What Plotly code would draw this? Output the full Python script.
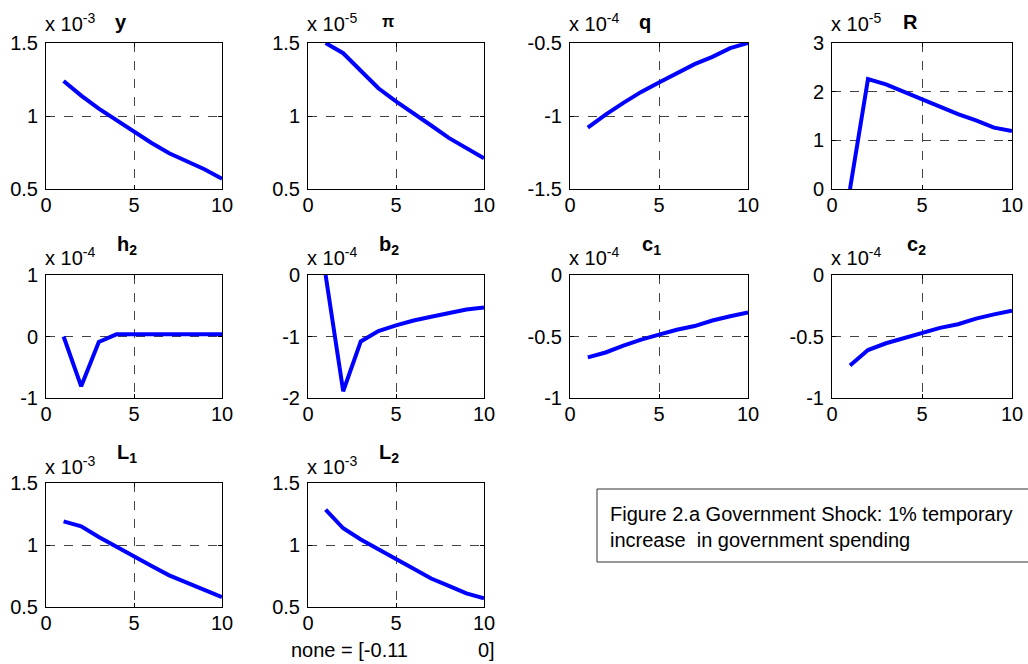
import plotly.graph_objects as go

W, H = 1028, 664
periods = list(range(1, 11))

y_vals  = [1.24, 1.14, 1.05, 0.97, 0.895, 0.815, 0.745, 0.69, 0.635, 0.57]
pi_vals = [1.50, 1.43, 1.31, 1.19, 1.10, 1.02, 0.935, 0.85, 0.78, 0.71]
q_vals  = [-1.08, -0.99, -0.91, -0.835, -0.77, -0.705, -0.645, -0.595, -0.535, -0.50]
R_vals  = [0.0, 2.26, 2.15, 2.0, 1.84, 1.68, 1.54, 1.41, 1.26, 1.19]
h2_vals = [0.0, -0.81, -0.09, 0.035, 0.035, 0.035, 0.035, 0.035, 0.035, 0.035]
b2_vals = [0.0, -1.89, -1.08, -0.91, -0.82, -0.74, -0.68, -0.62, -0.56, -0.53]
c1_vals = [-0.67, -0.63, -0.575, -0.525, -0.485, -0.445, -0.415, -0.37, -0.335, -0.305]
c2_vals = [-0.735, -0.61, -0.555, -0.515, -0.475, -0.43, -0.40, -0.355, -0.32, -0.29]
L1_vals = [1.19, 1.15, 1.065, 0.985, 0.91, 0.83, 0.755, 0.695, 0.635, 0.58]
L2_vals = [1.285, 1.135, 1.045, 0.965, 0.885, 0.805, 0.73, 0.67, 0.61, 0.57]

titles = ["y", "π", "q", "R", "h<sub>2</sub>", "b<sub>2</sub>", "c<sub>1</sub>", "c<sub>2</sub>",
          "L<sub>1</sub>", "L<sub>2</sub>"]
exponents = ["-3", "-5", "-4", "-5", "-4", "-4", "-4", "-4", "-3", "-3"]
series = [y_vals, pi_vals, q_vals, R_vals, h2_vals, b2_vals, c1_vals, c2_vals, L1_vals, L2_vals]
y_ticks = [[0.5, 1, 1.5], [0.5, 1, 1.5], [-1.5, -1, -0.5], [0, 1, 2, 3],
           [-1, 0, 1], [-2, -1, 0], [-1, -0.5, 0], [-1, -0.5, 0],
           [0.5, 1, 1.5], [0.5, 1, 1.5]]
y_ticktext = [["0.5", "1", "1.5"], ["0.5", "1", "1.5"], ["-1.5", "-1", "-0.5"], ["0", "1", "2", "3"],
              ["-1", "0", "1"], ["-2", "-1", "0"], ["-1", "-0.5", "0"], ["-1", "-0.5", "0"],
              ["0.5", "1", "1.5"], ["0.5", "1", "1.5"]]
x_ticks = [0, 5, 10]
x_ticktext = ["0", "5", "10"]

# layout geometry (pixels)
cols = [(46, 222), (308, 484), (570, 748), (832, 1012)]
rows = [(43, 189), (275, 398), (483, 607)]
title_x = [121, 388, 645, 910, 127, 389, 651, 916, 127, 389]
title_y = {0: 22, 1: 246, 2: 453}
exp_y = {0: 23, 1: 257, 2: 466}

FONT = "Liberation Sans, Arial, sans-serif"
fig = go.Figure()
annotations = []

for i, vals in enumerate(series):
    r, c = divmod(i, 4)
    x0, x1 = cols[c]
    y0, y1 = rows[r]
    n = "" if i == 0 else str(i + 1)
    fig.add_trace(go.Scatter(x=periods, y=vals, mode="lines",
                             line=dict(color="#0000ff", width=4),
                             xaxis="x" + n, yaxis="y" + n, showlegend=False,
                             cliponaxis=False))
    common = dict(showline=True, linecolor="black", linewidth=1, mirror="ticks",
                  ticks="inside", ticklen=4, tickcolor="black", automargin=False,
                  showgrid=True, gridcolor="#444444", griddash="dash", gridwidth=1,
                  zeroline=False, tickfont=dict(family=FONT, size=20, color="black"),
                  fixedrange=True)
    fig.update_layout(**{
        "xaxis" + n: dict(domain=[x0 / W, x1 / W], anchor="y" + n, range=[0, 10],
                          tickvals=x_ticks, ticktext=x_ticktext,
                          ticklabelstandoff=-2, **common),
        "yaxis" + n: dict(domain=[1 - y1 / H, 1 - y0 / H], anchor="x" + n,
                          range=[y_ticks[i][0], y_ticks[i][-1]],
                          tickvals=y_ticks[i], ticktext=y_ticktext[i],
                          ticklabelstandoff=3, **common),
    })
    annotations.append(dict(x=(x0 - 3) / W, y=1 - exp_y[r] / H, xref="paper", yref="paper",
                            xanchor="left", yanchor="middle", showarrow=False,
                            text="x 10<sup>" + exponents[i] + "</sup>",
                            font=dict(family=FONT, size=20, color="black")))
    annotations.append(dict(x=title_x[i] / W, y=1 - title_y[r] / H, xref="paper", yref="paper",
                            xanchor="center", yanchor="middle", showarrow=False,
                            text="<b>" + titles[i] + "</b>",
                            font=dict(family=FONT, size=20 if i != 1 else 16, color="black")))

annotations.append(dict(x=289 / W, y=1 - 650 / H, xref="paper", yref="paper",
                        xanchor="left", yanchor="middle", showarrow=False,
                        text="none = [-0.11", font=dict(family=FONT, size=20, color="black")))
annotations.append(dict(x=497 / W, y=1 - 650 / H, xref="paper", yref="paper",
                        xanchor="right", yanchor="middle", showarrow=False,
                        text="0]", font=dict(family=FONT, size=20, color="black")))
annotations.append(dict(x=608 / W, y=1 - 527 / H, xref="paper", yref="paper",
                        xanchor="left", yanchor="middle", showarrow=False, align="left",
                        text="Figure 2.a Government Shock: 1% temporary<br>increase  in government spending",
                        font=dict(family=FONT, size=20, color="black")))

fig.update_layout(
    width=W, height=H, margin=dict(l=0, r=0, t=0, b=0),
    paper_bgcolor="white", plot_bgcolor="white",
    annotations=annotations,
    shapes=[dict(type="rect", xref="paper", yref="paper",
                 x0=597 / W, x1=1.02, y0=1 - 562 / H, y1=1 - 489 / H,
                 line=dict(color="#333333", width=1))],
)

fig.write_html("out.html")
